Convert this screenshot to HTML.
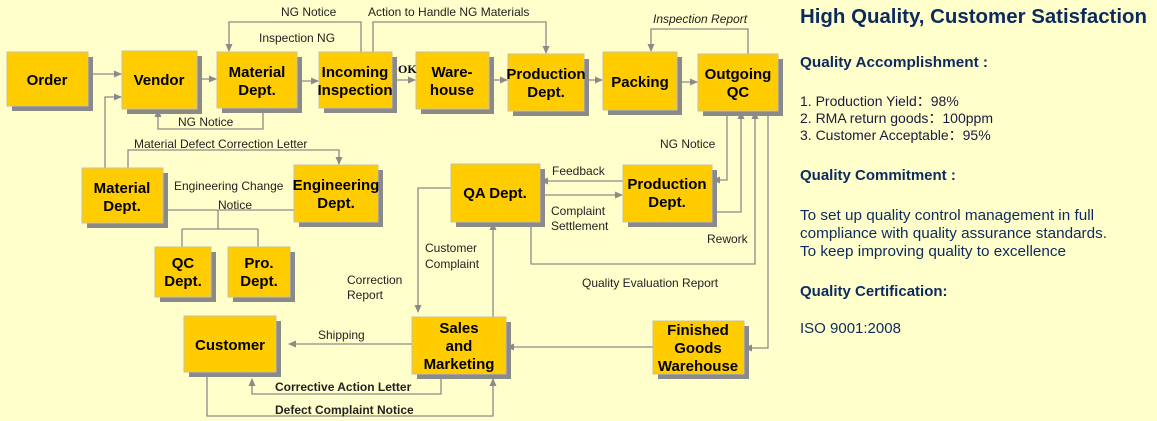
<!DOCTYPE html>
<html><head><meta charset="utf-8"><style>
body{margin:0;background:#ffffcc;}
svg{display:block}
.b{fill:#ffcc00;stroke:#c8bfa0;stroke-width:1}
.s{fill:#8a8a8a}
.t{font-family:"Liberation Sans",Arial,sans-serif;font-weight:bold;font-size:15px;fill:#000;text-anchor:middle}
.l{font-family:"Liberation Sans",Arial,sans-serif;font-size:12px;fill:#222}
.lb{font-family:"Liberation Sans",Arial,sans-serif;font-size:12px;font-weight:bold;fill:#222}
.c{stroke:#8a8a8a;stroke-width:1.3;fill:none}
.r{font-family:"Liberation Sans",Arial,sans-serif;fill:#0c2a5e}
</style></head><body>
<svg width="1157" height="421" viewBox="0 0 1157 421" xmlns="http://www.w3.org/2000/svg">
<defs><marker id="a" markerWidth="8" markerHeight="8" refX="7" refY="4" orient="auto" markerUnits="userSpaceOnUse"><path d="M0,0.5 L8,4 L0,7.5 z" fill="#8a8a8a"/></marker></defs>
<g class="c">
<path d="M88,74 H121" marker-end="url(#a)"/>
<path d="M197,79 H216" marker-end="url(#a)"/>
<path d="M297,81 H318" marker-end="url(#a)"/>
<path d="M392,80 H415" marker-end="url(#a)"/>
<path d="M489,80 H507" marker-end="url(#a)"/>
<path d="M584,80 H602" marker-end="url(#a)"/>
<path d="M677,82 H697" marker-end="url(#a)"/>
<path d="M105,168 V97 H121" marker-end="url(#a)"/>
<path d="M361,52 V22 H229 V51" marker-end="url(#a)"/>
<path d="M373,52 V22 H546 V53" marker-end="url(#a)"/>
<path d="M263,108 V129 H158 V110" marker-end="url(#a)"/>
<path d="M128,168 V150 H339 V164" marker-end="url(#a)"/>
<path d="M163,210 H294"/>
<path d="M218,210 V229 M182,229 H258 M182,229 V247 M258,229 V247"/>
<path d="M748,54 V29 H651 V51" marker-end="url(#a)"/>
<path d="M727,111 V180 H713" marker-end="url(#a)"/>
<path d="M712,212 H741 V112" marker-end="url(#a)"/>
<path d="M623,181 H541" marker-end="url(#a)"/>
<path d="M540,195 H622" marker-end="url(#a)"/>
<path d="M531,222 V264 H755 V112" marker-end="url(#a)"/>
<path d="M768,111 V348 H745" marker-end="url(#a)"/>
<path d="M653,347 H507" marker-end="url(#a)"/>
<path d="M412,344 H289" marker-end="url(#a)"/>
<path d="M451,188 H418 V312" marker-end="url(#a)"/>
<path d="M493,317 V223" marker-end="url(#a)"/>
<path d="M441,374 V394 H252 V379" marker-end="url(#a)"/>
<path d="M207,372 V416 H493 V379" marker-end="url(#a)"/>
</g>
<g>
<rect class="s" x="12" y="57" width="81" height="54"/><rect class="b" x="7" y="52" width="81" height="54"/>
<rect class="s" x="127" y="56" width="75" height="58"/><rect class="b" x="122" y="51" width="75" height="58"/>
<rect class="s" x="222" y="57" width="80" height="56"/><rect class="b" x="217" y="52" width="80" height="56"/>
<rect class="s" x="324" y="57" width="73" height="56"/><rect class="b" x="319" y="52" width="73" height="56"/>
<rect class="s" x="421" y="57" width="73" height="57"/><rect class="b" x="416" y="52" width="73" height="57"/>
<rect class="s" x="513" y="59" width="76" height="57"/><rect class="b" x="508" y="54" width="76" height="57"/>
<rect class="s" x="608" y="57" width="74" height="58"/><rect class="b" x="603" y="52" width="74" height="58"/>
<rect class="s" x="703" y="59" width="80" height="57"/><rect class="b" x="698" y="54" width="80" height="57"/>
<rect class="s" x="87" y="173" width="81" height="55"/><rect class="b" x="82" y="168" width="81" height="55"/>
<rect class="s" x="299" y="170" width="84" height="57"/><rect class="b" x="294" y="165" width="84" height="57"/>
<rect class="s" x="160" y="252" width="56" height="50"/><rect class="b" x="155" y="247" width="56" height="50"/>
<rect class="s" x="233" y="252" width="62" height="50"/><rect class="b" x="228" y="247" width="62" height="50"/>
<rect class="s" x="456" y="169" width="89" height="58"/><rect class="b" x="451" y="164" width="89" height="58"/>
<rect class="s" x="628" y="170" width="89" height="57"/><rect class="b" x="623" y="165" width="89" height="57"/>
<rect class="s" x="189" y="321" width="92" height="56"/><rect class="b" x="184" y="316" width="92" height="56"/>
<rect class="s" x="417" y="322" width="94" height="57"/><rect class="b" x="412" y="317" width="94" height="57"/>
<rect class="s" x="658" y="326" width="91" height="53"/><rect class="b" x="653" y="321" width="91" height="53"/>
</g>
<g class="t">
<text x="47" y="85">Order</text>
<text x="159" y="85">Vendor</text>
<text x="257" y="77">Material</text><text x="257" y="95">Dept.</text>
<text x="355" y="77">Incoming</text><text x="355" y="95">Inspection</text>
<text x="452" y="77">Ware-</text><text x="452" y="95">house</text>
<text x="546" y="79">Production</text><text x="546" y="97">Dept.</text>
<text x="640" y="87">Packing</text>
<text x="738" y="79">Outgoing</text><text x="738" y="97">QC</text>
<text x="122" y="193">Material</text><text x="122" y="211">Dept.</text>
<text x="336" y="190">Engineering</text><text x="336" y="208">Dept.</text>
<text x="183" y="268">QC</text><text x="183" y="286">Dept.</text>
<text x="259" y="268">Pro.</text><text x="259" y="286">Dept.</text>
<text x="495" y="198">QA Dept.</text>
<text x="667" y="189">Production</text><text x="667" y="207">Dept.</text>
<text x="230" y="350">Customer</text>
<text x="459" y="333">Sales</text><text x="459" y="351">and</text><text x="459" y="369">Marketing</text>
<text x="698" y="335">Finished</text><text x="698" y="353">Goods</text><text x="698" y="371">Warehouse</text>
</g>
<g class="l">
<text x="281" y="16">NG Notice</text>
<text x="368" y="16">Action to Handle NG Materials</text>
<text x="259" y="42">Inspection  NG</text>
<text x="178" y="126">NG Notice</text>
<text x="134" y="148">Material Defect Correction Letter</text>
<text x="174" y="190">Engineering Change</text>
<text x="218" y="209">Notice</text>
<text x="653" y="23" font-style="italic">Inspection Report</text>
<text x="660" y="148">NG Notice</text>
<text x="552" y="175">Feedback</text>
<text x="551" y="215">Complaint</text><text x="551" y="230">Settlement</text>
<text x="707" y="243">Rework</text>
<text x="425" y="252">Customer</text><text x="425" y="268">Complaint</text>
<text x="347" y="284">Correction</text><text x="347" y="299">Report</text>
<text x="582" y="287">Quality Evaluation Report</text>
<text x="318" y="339">Shipping</text>
</g>
<text x="398" y="73" font-family="Liberation Serif,serif" font-weight="bold" font-size="12">OK</text>
<g class="lb">
<text x="275" y="391">Corrective Action Letter</text>
<text x="275" y="414">Defect Complaint Notice</text>
</g>
<g class="r">
<text x="800" y="23" font-size="20" font-weight="bold" textLength="347" lengthAdjust="spacingAndGlyphs">High Quality, Customer Satisfaction</text>
<text x="800" y="67" font-size="15" font-weight="bold" textLength="188" lengthAdjust="spacingAndGlyphs">Quality Accomplishment :</text>
<text x="800" y="106" font-size="14" fill="#1a1a40">1. Production Yield：98%</text>
<text x="800" y="123" font-size="14" fill="#1a1a40">2. RMA return goods：100ppm</text>
<text x="800" y="140" font-size="14" fill="#1a1a40">3. Customer Acceptable：95%</text>
<text x="800" y="180" font-size="15" font-weight="bold">Quality Commitment :</text>
<text x="800" y="220" font-size="15" textLength="294" lengthAdjust="spacingAndGlyphs">To set up quality control management in full</text>
<text x="800" y="238" font-size="15" textLength="307" lengthAdjust="spacingAndGlyphs">compliance with quality assurance standards.</text>
<text x="800" y="256" font-size="15" textLength="266" lengthAdjust="spacingAndGlyphs">To keep improving quality to excellence</text>
<text x="800" y="296" font-size="15" font-weight="bold">Quality Certification:</text>
<text x="800" y="333" font-size="15">ISO 9001:2008</text>
</g>
</svg>
</body></html>
